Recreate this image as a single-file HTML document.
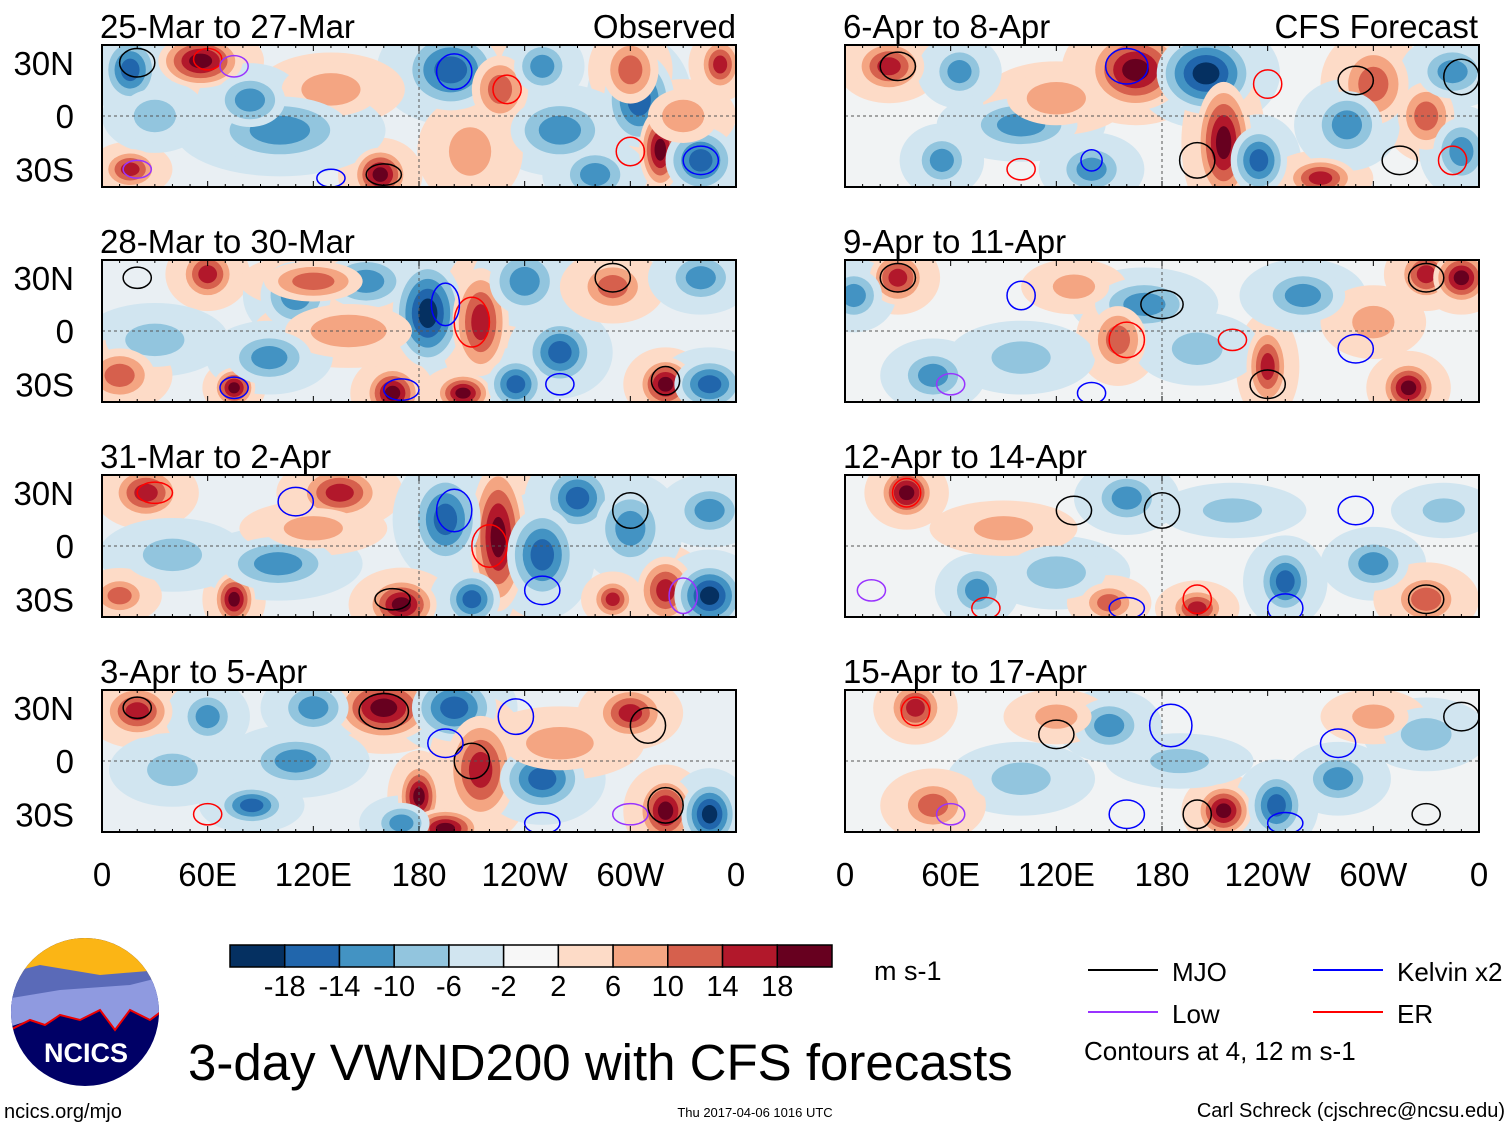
<!DOCTYPE html>
<html><head><meta charset="utf-8"><style>
body{margin:0;background:#fff;width:1510px;height:1127px;overflow:hidden;font-family:"Liberation Sans",sans-serif}
svg text{font-family:"Liberation Sans",sans-serif}
</style></head><body>
<svg id="s" width="1510" height="1127" xmlns="http://www.w3.org/2000/svg">
<g id="panels"></g>
</svg>
<script>
const NS="http://www.w3.org/2000/svg";
const P=document.getElementById('panels');
function mk(t,a,par){const e=document.createElementNS(NS,t);for(const k in a)e.setAttribute(k,a[k]);(par||P).appendChild(e);return e;}
const panelTitles=["25-Mar to 27-Mar","28-Mar to 30-Mar","31-Mar to 2-Apr","3-Apr to 5-Apr","6-Apr to 8-Apr","9-Apr to 11-Apr","12-Apr to 14-Apr","15-Apr to 17-Apr"];
const levels=[-18,-14,-10,-6,-2,2,6,10,14,18];
const colors=["#053061","#2166ac","#4393c3","#92c5de","#d1e5f0","#f7f7f7","#fddbc7","#f4a582","#d6604d","#b2182b","#67001f"];
const lonTicks=["0","60E","120E","180","120W","60W","0"];
const latTicks=["30N","0","30S"];
// blobs: [lon, lat, value, rxDeg, ryDeg]
const blobs0=[[56,31,18,12,8],[198,26,-14,14,12],[305,9,-14,10,14],[300,26,10,8,10],[226,15,10,8,10],[130,15,6,14,8],[158,-33,16,8,8],[101,-8,-8,20,10],[317,-19,16,6,12],[340,-25,-14,10,10],[16,-30,14,8,6],[260,-8,-8,14,10],[209,-20,6,10,12],[351,29,14,6,8],[16,26,-14,8,10],[84,9,-8,10,8],[30,0,-6,10,8],[250,28,-10,8,8],[280,-33,-10,10,8],[330,0,6,10,8]];
const blobs1=[[60,32,14,8,8],[150,28,-10,12,8],[185,10,-16,10,16],[215,5,14,8,16],[165,-35,16,8,8],[75,-32,16,6,6],[260,-12,-12,10,10],[320,-30,16,8,8],[345,-30,-14,10,8],[110,20,-8,10,10],[120,28,10,14,6],[240,28,-10,10,10],[30,-5,-6,14,8],[290,25,10,10,8],[205,-35,16,8,6],[140,0,6,18,8],[235,-30,-14,8,8],[340,30,-8,10,8],[95,-15,-8,12,8],[10,-25,8,10,8]];
const blobs2=[[25,30,14,10,8],[135,30,12,12,8],[225,5,16,8,22],[195,15,-12,10,14],[270,27,-14,10,10],[75,-30,16,6,8],[170,-33,16,10,8],[320,-25,14,8,10],[345,-28,-18,10,10],[250,-5,-12,10,14],[100,-10,-8,16,8],[40,-5,-6,14,8],[300,10,-10,10,12],[290,-30,14,6,6],[120,10,6,14,6],[210,-30,-12,8,8],[10,-28,10,8,6],[345,20,-8,10,8]];
const blobs3=[[20,28,14,10,8],[160,30,18,14,10],[200,30,-14,12,10],[215,-5,14,10,16],[300,27,12,10,8],[60,25,-10,8,8],[85,-25,-14,10,6],[320,-28,16,8,10],[345,-30,-16,8,10],[180,-20,16,6,10],[250,-10,-12,12,10],[195,-38,16,10,6],[110,0,-8,14,8],[260,10,6,16,8],[40,-5,-6,12,8],[120,30,-8,10,8],[170,-35,-10,8,6]];
const blobs4=[[25,28,14,10,8],[165,26,18,14,12],[205,24,-16,14,12],[215,-15,16,8,18],[235,-25,-14,8,10],[300,18,10,10,12],[100,-5,-8,16,8],[55,-25,-10,8,8],[330,0,10,8,10],[345,25,-10,10,8],[270,-35,14,10,6],[285,-5,-10,10,10],[350,-20,-8,8,10],[140,-30,-8,10,8],[120,10,6,14,8],[65,25,-10,8,8]];
const blobs5=[[30,30,14,8,8],[330,32,14,8,8],[350,30,18,8,8],[170,15,-10,14,8],[155,-5,10,8,10],[240,-20,14,6,12],[320,-32,16,8,8],[260,20,-10,12,8],[100,-15,-6,14,8],[200,-10,-6,12,8],[50,-25,-8,10,8],[300,5,6,10,8],[5,20,-10,8,8],[130,25,6,10,6]];
const blobs6=[[35,30,18,8,8],[160,27,-10,10,8],[200,-35,14,8,6],[250,-20,-12,8,10],[120,-15,-6,14,8],[75,-25,-10,8,8],[300,-10,-10,10,8],[330,-30,8,10,8],[90,10,6,14,6],[220,20,-6,14,6],[340,20,-6,10,6],[150,-32,8,8,6]];
const blobs7=[[40,30,12,8,8],[215,-28,18,8,8],[245,-25,-12,8,10],[150,20,-8,10,8],[280,-10,-10,10,8],[330,15,-6,12,8],[100,-10,-6,14,8],[50,-25,8,10,8],[120,25,6,10,6],[190,0,-6,14,6],[300,25,6,10,6]];
const blobSets=[blobs0,blobs1,blobs2,blobs3,blobs4,blobs5,blobs6,blobs7];
const cont0=[[20,30,10,8,0],[160,-33,10,6,0],[200,25,10,10,1],[230,15,8,8,3],[60,32,8,6,3],[340,-25,10,8,1],[300,-20,8,8,3],[75,28,8,6,2],[130,-35,8,5,1],[20,-30,8,5,2]];
const cont1=[[210,5,10,14,3],[290,30,10,8,0],[195,15,8,12,1],[320,-28,8,8,0],[170,-33,10,6,1],[20,30,8,6,0],[75,-32,8,6,1],[260,-30,8,6,1]];
const cont2=[[220,0,10,12,3],[200,20,10,12,1],[300,20,10,10,0],[165,-30,10,6,0],[330,-28,8,10,2],[110,25,10,8,1],[30,30,10,6,3],[250,-25,10,8,1]];
const cont3=[[160,28,14,10,0],[210,0,10,10,0],[20,30,8,6,0],[310,20,10,10,0],[320,-25,10,10,0],[235,25,10,10,1],[195,10,10,8,1],[60,-30,8,6,3],[300,-30,10,6,2],[250,-35,10,6,1]];
const cont4=[[30,28,10,8,0],[160,28,12,10,1],[240,18,8,8,3],[290,20,10,8,0],[315,-25,10,8,0],[350,22,10,10,0],[200,-25,10,10,0],[100,-30,8,6,3],[345,-25,8,8,3],[140,-25,6,6,1]];
const cont5=[[30,30,10,8,0],[180,15,12,8,0],[160,-5,10,10,3],[240,-30,10,8,0],[330,30,10,8,0],[100,20,8,8,1],[290,-10,10,8,1],[60,-30,8,6,2],[220,-5,8,6,3],[140,-35,8,6,1]];
const cont6=[[35,30,8,8,3],[180,20,10,10,0],[200,-30,8,8,3],[130,20,10,8,0],[250,-35,10,8,1],[330,-30,10,8,0],[15,-25,8,6,2],[290,20,10,8,1],[80,-35,8,6,3],[160,-35,10,6,1]];
const cont7=[[40,28,8,8,3],[185,20,12,12,1],[200,-30,8,8,0],[120,15,10,8,0],[280,10,10,8,1],[330,-30,8,6,0],[350,25,10,8,0],[250,-35,10,6,1],[60,-30,8,6,2],[160,-30,10,8,1]];
const contSets=[cont0,cont1,cont2,cont3,cont4,cont5,cont6,cont7];
const contColors=["#000","#0000ff","#9933ff","#ff0000"];

const PW=634,PH=142,LAT=40;
const panelX=[102,845],panelY=[45,260,475,690];
function colorOf(v){let i=0;while(i<levels.length&&v>levels[i])i++;return colors[i];}
for(let p=0;p<8;p++){
  const x0=panelX[p<4?0:1],y0=panelY[p%4];
  const xs=lon=>x0+lon/360*PW, ys=lat=>y0+PH/2-lat/LAT*(PH/2);
  const g=mk('g',{});
  
  
  const cid='clip'+p;
  const cp=mk('clipPath',{id:cid},g);mk('rect',{x:x0,y:y0,width:PW,height:PH},cp);
  const inner=mk('g',{'clip-path':'url(#'+cid+')'},g);
  mk('rect',{x:x0,y:y0,width:PW,height:PH,fill:p<4?'#e9eff3':'#f1f3f4'},inner);
  // broad halos first
  blobSets[p].forEach(b=>{
    const e=mk('ellipse',{cx:xs(b[0]),cy:ys(b[1]),rx:b[3]/360*PW*3.0,ry:b[4]/LAT*(PH/2)*2.6,fill:colorOf(Math.sign(b[2])*3)},inner);
    
    
  });
  blobSets[p].forEach(b=>{
    const steps=Math.ceil((Math.abs(b[2])+2)/4);
    for(let k=0;k<steps;k++){
      const v=Math.sign(b[2])*(3+4*k);const f=1-k/(steps+0.5);
      const e=mk('ellipse',{cx:xs(b[0]),cy:ys(b[1]),rx:b[3]/360*PW*f*2.0,ry:b[4]/LAT*(PH/2)*f*1.9,fill:colorOf(v)},inner);
      
      
    }
  });
  contSets[p].forEach(c=>{
    const e=mk('ellipse',{cx:xs(c[0]),cy:ys(c[1]),rx:c[2]/360*PW,ry:c[3]/LAT*(PH/2),fill:'none',stroke:contColors[c[4]],'stroke-width':1.5},inner);
    
    
  });
  mk('line',{x1:x0,x2:x0+PW,y1:ys(0),y2:ys(0),stroke:'#555','stroke-dasharray':'3,3','stroke-width':1},inner);
  mk('line',{x1:xs(180),x2:xs(180),y1:y0,y2:y0+PH,stroke:'#555','stroke-dasharray':'3,3','stroke-width':1},inner);
  mk('rect',{x:x0,y:y0,width:PW,height:PH,fill:'none',stroke:'#000','stroke-width':2},g);
  for(let l=0;l<=360;l+=10){
    const tl=l%60==0?6:3;
    mk('line',{x1:xs(l),x2:xs(l),y1:y0,y2:y0+tl,stroke:'#000'},g);
    mk('line',{x1:xs(l),x2:xs(l),y1:y0+PH,y2:y0+PH-tl,stroke:'#000'},g);
  }
  const t=mk('text',{x:x0-2,y:y0-7,'font-size':33},g);t.textContent=panelTitles[p];
  
  
  if(p<4){[30,0,-30].forEach((la,i)=>{const tt=mk('text',{x:74,y:ys(la)+12,'font-size':33,'text-anchor':'end'},g);tt.textContent=latTicks[i];});}
  if(p%4==3){lonTicks.forEach((lb,i)=>{const tt=mk('text',{x:xs(i*60),y:y0+PH+54,'font-size':33,'text-anchor':'middle'},g);tt.textContent=lb;});}
}
const hl=[["Observed",736,33],["CFS Forecast",1478,33]];
hl.forEach(h=>{const t=mk('text',{x:h[1],y:h[2]+5,'font-size':33,'text-anchor':'end'});t.textContent=h[0];
});
const cb=mk('g',{});
const cbx=230,cbw=602/11;
colors.forEach((c,i)=>mk('rect',{x:cbx+i*cbw,y:945,width:cbw,height:22,fill:c,stroke:'#000','stroke-width':1.5},cb));
levels.forEach((l,i)=>{const t=mk('text',{x:cbx+(i+1)*cbw,y:996,'font-size':29,'text-anchor':'middle'},cb);t.textContent=l;});
const u=mk('text',{x:874,y:980,'font-size':27});u.textContent="m s-1";
const leg=mk('g',{});
[["MJO",1088,970,0],["Low",1088,1012,2],["Kelvin x2",1313,970,1],["ER",1313,1012,3]].forEach(l=>{
 mk('line',{x1:l[1],x2:l[1]+70,y1:l[2],y2:l[2],stroke:contColors[l[3]],'stroke-width':2},leg);
 const t=mk('text',{x:l[1]+84,y:l[2]+11,'font-size':26},leg);t.textContent=l[0];});
const ct=mk('text',{x:1084,y:1060,'font-size':26});ct.textContent="Contours at 4, 12 m s-1";
const ti=mk('text',{x:188,y:1080,'font-size':51});ti.textContent="3-day VWND200 with CFS forecasts";

const a=mk('text',{x:4,y:1118,'font-size':20});a.textContent="ncics.org/mjo";
const d=mk('text',{x:755,y:1117,'font-size':13,'text-anchor':'middle'});d.textContent="Thu 2017-04-06 1016 UTC";
const au=mk('text',{x:1505,y:1117,'font-size':20,'text-anchor':'end'});au.textContent="Carl Schreck (cjschrec@ncsu.edu)";
const lg=mk('g',{});
const lc=mk('clipPath',{id:'lc'},lg);mk('circle',{cx:85,cy:1012,r:74},lc);
const li=mk('g',{'clip-path':'url(#lc)'},lg);
mk('rect',{x:0,y:930,width:170,height:170,fill:'#000066'},li);
mk('rect',{x:0,y:930,width:170,height:50,fill:'#fbb515'},li);
mk('path',{d:'M0 975 L40 965 L100 975 L160 970 L170 1000 L0 1010Z',fill:'#5a6ab8'},li);
mk('path',{d:'M0 1000 L60 990 L130 985 L170 975 L170 1005 L150 1020 L130 1010 L115 1030 L100 1010 L80 1020 L60 1015 L45 1025 L30 1020 L0 1030Z',fill:'#8f9ae0'},li);
mk('path',{d:'M10 1030 L30 1020 L45 1025 L60 1015 L80 1020 L100 1010 L115 1030 L130 1010 L150 1020 L170 1005',fill:'none',stroke:'#e00','stroke-width':2},li);
const nt=mk('text',{x:86,y:1062,'font-size':27,'font-weight':'bold',fill:'#fff','text-anchor':'middle'},lg);nt.textContent="NCICS";
</script>
</body></html>
